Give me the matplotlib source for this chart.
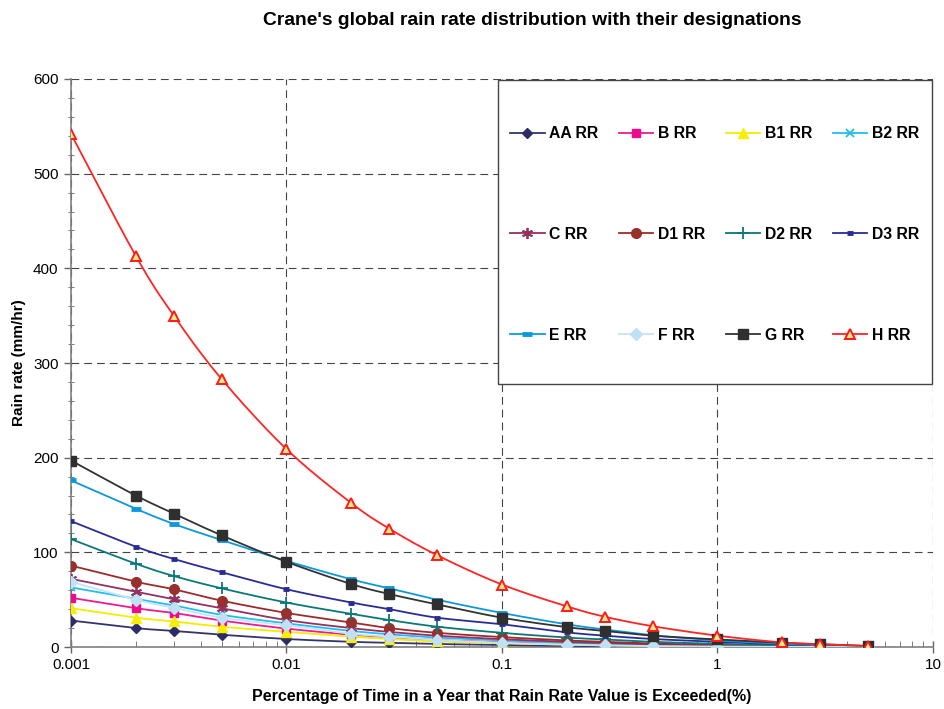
import numpy as np
import matplotlib
matplotlib.use("Agg")
import matplotlib.pyplot as plt
from matplotlib.patches import Rectangle
from matplotlib.ticker import FixedLocator, NullFormatter, LogLocator

plt.rcParams['font.family'] = ['Liberation Sans', 'DejaVu Sans']

# Percentage of time a rain rate is exceeded, and Crane rain rates (mm/hr)
percent = [0.001, 0.002, 0.003, 0.005, 0.01, 0.02, 0.03, 0.05,
           0.1, 0.2, 0.3, 0.5, 1, 2, 3, 5]

rr_AA = [28, 20, 17, 13, 8.5, 5.5, 4.5, 3.2, 2.2, 1.2, 0.9, 0.6, 0.3, 0.2, 0.1, 0.0]
rr_B = [52, 41, 36, 28, 19.5, 13, 10.5, 7.5, 5, 3, 2.3, 1.5, 0.9, 0.5, 0.3, 0.1]
rr_B1 = [41, 31, 27, 21.5, 16, 11, 8.5, 6, 4, 2.5, 1.8, 1.2, 0.7, 0.4, 0.2, 0.1]
rr_B2 = [63, 51, 44, 34, 25, 17, 13.5, 10, 7, 4.5, 3.3, 2.2, 1.3, 0.7, 0.4, 0.1]
rr_C = [72, 58.5, 50.5, 41, 28.5, 20, 16, 12, 8.3, 5.5, 4.2, 2.8, 1.7, 0.9, 0.6, 0.2]
rr_D1 = [86, 69, 61, 49, 36, 26, 20, 15, 10.5, 7, 5.5, 3.8, 2.3, 1.3, 0.8, 0.3]
rr_D2 = [114, 88, 75, 62, 47, 35, 28.5, 21.5, 15, 10, 8, 5.5, 3.4, 2, 1.3, 0.5]
rr_D3 = [133, 106, 93, 79, 61, 47, 40, 31, 24, 15.5, 12, 8.5, 5.5, 3, 2, 0.8]
rr_E = [176, 146, 130, 113, 91, 71.5, 62, 50, 36, 24, 18.5, 12.5, 7, 3.5, 2, 0.7]
rr_F = [69, 50, 41.5, 31, 23, 14, 11, 7.5, 4.5, 2.5, 1.7, 1, 0.5, 0.2, 0.1, 0.0]
rr_G = [197, 160, 141, 118, 90, 66.5, 56, 45, 31, 21, 17, 12, 8, 4.5, 3, 1.2]
rr_H = [542, 413, 350, 283, 209, 152, 125, 97, 66, 43, 32, 22, 12, 4.8, 3, 1.0]

series_names = ['AA RR', 'B RR', 'B1 RR', 'B2 RR', 'C RR', 'D1 RR',
                'D2 RR', 'D3 RR', 'E RR', 'F RR', 'G RR', 'H RR']
series_values = [rr_AA, rr_B, rr_B1, rr_B2, rr_C, rr_D1,
                 rr_D2, rr_D3, rr_E, rr_F, rr_G, rr_H]

# line colour, marker, marker face, marker edge, marker size, edge width
styles = [
    ('#34346e', 'D', '#2c2c66', '#2c2c66', 5, 1.0),
    ('#ee1a90', 's', '#ee0a8c', '#ee0a8c', 6, 1.0),
    ('#f5ec00', '^', '#f7ee00', '#f7ee00', 7, 1.0),
    ('#22bdf0', 'x', '#22bdf0', '#22bdf0', 6, 1.3),
    ('#95305f', (6, 2, 0), '#95305f', '#95305f', 8, 1.3),
    ('#9c2c2c', 'o', '#98302e', '#98302e', 7, 1.0),
    ('#0b7878', '+', '#0b7878', '#0b7878', 9, 1.3),
    ('#2a2c96', '_', '#2a2c96', '#2a2c96', 4, 3.5),
    ('#0e98dc', '_', '#0e98dc', '#0e98dc', 7, 3.5),
    ('#c4e4f6', 'D', '#bfe1f6', '#bfe1f6', 6, 1.0),
    ('#333333', 's', '#2f2f2f', '#2f2f2f', 7, 1.0),
    ('#ff2424', '^', '#ffe98a', '#ff1a1a', 7, 1.4),
]


def smooth_curve(xs, ys, steps=24):
    # Catmull-Rom spline in (log x, y) plot space, like a smoothed line chart
    u = np.log10(np.asarray(xs, dtype=float)) / 4.0
    v = np.asarray(ys, dtype=float) / 600.0 * 0.66
    pts = np.column_stack([u, v])
    pts = np.vstack([2 * pts[0] - pts[1], pts, 2 * pts[-1] - pts[-2]])
    out = []
    t = np.linspace(0, 1, steps, endpoint=False)[:, None]
    for i in range(1, len(pts) - 2):
        p0, p1, p2, p3 = pts[i - 1], pts[i], pts[i + 1], pts[i + 2]
        seg = 0.5 * ((2 * p1) + (-p0 + p2) * t
                     + (2 * p0 - 5 * p1 + 4 * p2 - p3) * t ** 2
                     + (-p0 + 3 * p1 - 3 * p2 + p3) * t ** 3)
        out.append(seg)
    out.append(pts[-2][None, :])
    out = np.vstack(out)
    return 10 ** (out[:, 0] * 4.0), out[:, 1] / 0.66 * 600.0


fig = plt.figure(figsize=(9.44, 7.09), dpi=100)
ax = fig.add_axes([0.0752, 0.0874, 0.9131, 0.8012])

handles = []
for name, vals, st in zip(series_names, series_values, styles):
    color, marker, face, edge, ms, mew = st
    sx, sy = smooth_curve(percent, vals)
    ax.plot(sx, sy, color=color, lw=1.3, zorder=3)
    ax.plot(percent, vals, linestyle='none', marker=marker, ms=ms,
            mfc=face, mec=edge, mew=mew, zorder=4)
    h, = ax.plot([], [], color=color, lw=1.3, marker=marker, ms=ms,
                 mfc=face, mec=edge, mew=mew, label=name)
    handles.append(h)

ax.set_xscale('log')
ax.set_xlim(0.001, 10)
ax.set_ylim(0, 600)

ax.xaxis.set_major_locator(FixedLocator([0.001, 0.01, 0.1, 1, 10]))
ax.set_xticklabels(['0.001', '0.01', '0.1', '1', '10'])
ax.xaxis.set_minor_locator(LogLocator(base=10, subs=np.arange(2, 10)))
ax.xaxis.set_minor_formatter(NullFormatter())
ax.yaxis.set_major_locator(FixedLocator(np.arange(0, 601, 100)))
ax.yaxis.set_minor_locator(FixedLocator(np.arange(0, 601, 20)))

ax.tick_params(axis='both', which='major', labelsize=11, color='#666666',
               length=5, width=1, pad=4)
ax.tick_params(axis='x', which='major', direction='inout', length=8)
ax.tick_params(axis='x', which='minor', direction='in', length=4, color='#666666')
ax.tick_params(axis='y', which='major', direction='out', length=5)
ax.tick_params(axis='y', which='minor', direction='inout', length=5, color='#666666')

for side in ('top', 'right'):
    ax.spines[side].set_visible(False)
for side in ('left', 'bottom'):
    ax.spines[side].set_color('#808080')
    ax.spines[side].set_linewidth(1.2)

ax.grid(True, which='major', color='#444444', lw=0.8, linestyle=(0, (7, 4.5)))
ax.set_axisbelow(True)

ax.set_xlabel('Percentage of Time in a Year that Rain Rate Value is Exceeded(%)',
              fontsize=11.5, fontweight='bold', labelpad=12)
ax.set_ylabel('Rain rate (mm/hr)', fontsize=11, fontweight='bold', labelpad=5)
fig.text(0.5636, 0.971, "Crane's global rain rate distribution with their designations",
         ha='center', va='center', fontsize=13.9, fontweight='bold')

# white legend box drawn over the plot area
box = Rectangle((0.5275, 0.4584), 0.4597, 0.4288, transform=fig.transFigure,
                facecolor='white', edgecolor='#444444', lw=1.0, zorder=2)
fig.patches.append(box)

# legend reads row by row: reorder for matplotlib's column-major fill
order = [0, 4, 8, 1, 5, 9, 2, 6, 10, 3, 7, 11]
leg = fig.legend([handles[i] for i in order], [series_names[i] for i in order],
                 ncol=4, loc='upper left',
                 bbox_to_anchor=(510 / 944, 1 - 126 / 709),
                 bbox_transform=fig.transFigure,
                 prop={'weight': 'bold', 'size': 11.3},
                 handlelength=2.2, handletextpad=0.3, labelspacing=5.47,
                 columnspacing=1.3, borderpad=0, borderaxespad=0,
                 frameon=False)
leg.set_zorder(3)

fig.savefig('out.png', dpi=100)
